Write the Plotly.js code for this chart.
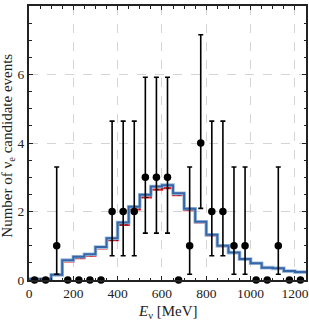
<!DOCTYPE html>
<html>
<head>
<meta charset="utf-8">
<script src="https://cdn.plot.ly/plotly-3.0.1.min.js"></script>
<style>html,body{margin:0;padding:0;background:#fff;}#chart{width:309px;height:320px;}</style>
</head>
<body>
<div id="chart"></div>
<script>
// Bin edges and centres (MeV)
var binEdges = [0,50,100,150,200,250,300,350,400,450,500,550,600,650,700,750,800,850,900,950,1000,1050,1100,1150,1200,1250];
var binCenters = [25,75,125,175,225,275,325,375,425,475,525,575,625,675,725,775,825,875,925,975,1025,1075,1125,1175,1225];
// Observed candidate events
var observed = [0,0,1,0,0,0,0,2,2,2,3,3,3,0,1,4,2,2,1,1,0,0,1,0,0];
var errUp   = [0,0,2.30,0,0,0,0,2.64,2.64,2.64,2.92,2.92,2.92,0,2.30,3.16,2.64,2.64,2.30,2.30,0,0,2.30,0,0];
var errDown = [0,0,0.83,0,0,0,0,1.29,1.29,1.29,1.63,1.63,1.63,0,0.83,1.91,1.29,1.29,0.83,0.83,0,0,0.83,0,0];
// Predictions
var predBlue = [0.03,0.03,0.15,0.58,0.68,0.75,0.96,1.22,1.68,2.14,2.49,2.73,2.77,2.53,2.08,1.70,1.32,1.00,0.80,0.61,0.49,0.36,0.34,0.26,0.23];
var predRed  = [0.03,0.03,0.15,0.54,0.64,0.71,0.92,1.16,1.61,2.06,2.41,2.64,2.68,2.48,2.04,1.68,1.30,0.99,0.79,0.60,0.48,0.35,0.33,0.25,0.22];
// Axis titles
var xTitle = '<i>E</i><sub>ν</sub> [MeV]';
var yTitle = 'Number of ν<sub>e</sub> candidate events';

function stepY(v){ return v.concat([v[v.length-1]]); }

var traces = [
  {x: binEdges, y: stepY(predRed), mode:'lines', line:{shape:'hv', color:'#e8202a', width:2.2}, hoverinfo:'skip'},
  {x: binEdges, y: stepY(predRed), mode:'lines', line:{shape:'hv', color:'#111', width:1, dash:'dot'}, hoverinfo:'skip'},
  {x: binEdges, y: stepY(predBlue), mode:'lines', line:{shape:'hv', color:'#9fbddc', width:3.6}, hoverinfo:'skip'},
  {x: binEdges, y: stepY(predBlue), mode:'lines', line:{shape:'hv', color:'#3566a8', width:2}, hoverinfo:'skip'},
  {x: binCenters, y: observed, mode:'markers', marker:{color:'#000', size:7.5},
   error_y:{type:'data', symmetric:false, array:errUp, arrayminus:errDown, color:'#000', thickness:1.6, width:2.5},
   cliponaxis:false, hoverinfo:'skip'}
];

var serif = 'Liberation Serif, Times New Roman, serif';
var layout = {
  width:309, height:320,
  margin:{l:29, r:3, t:6, b:40},
  showlegend:false,
  paper_bgcolor:'#fff', plot_bgcolor:'#fff',
  font:{family:serif, size:13, color:'#222'},
  xaxis:{
    range:[0,1250], tickvals:[0,200,400,600,800,1000,1200], ticktext:['0','200','400','600','800','1000','1200'],
    ticks:'inside', ticklen:4, tickwidth:1, tickcolor:'#222',
    minor:{dtick:50, tick0:0, ticks:'inside', ticklen:2.5, tickcolor:'#222', showgrid:false},
    showline:true, linecolor:'#222', linewidth:2, mirror:'allticks',
    showgrid:true, gridcolor:'#d4d4d4', griddash:'dash', gridwidth:1,
    zeroline:false, tickfont:{family:serif, size:13.5, color:'#222'}
  },
  yaxis:{
    range:[0,8], tickvals:[0,2,4,6,8], ticktext:['0','2','4','6','8'],
    ticks:'inside', ticklen:4, tickwidth:1, tickcolor:'#222',
    minor:{dtick:0.5, tick0:0, ticks:'inside', ticklen:2.5, tickcolor:'#222', showgrid:false},
    showline:true, linecolor:'#222', linewidth:2, mirror:'allticks',
    showgrid:true, gridcolor:'#d4d4d4', griddash:'dash', gridwidth:1,
    zeroline:false, tickfont:{family:serif, size:13.5, color:'#222'}
  },
  annotations:[
    {text:xTitle, xref:'paper', yref:'paper', x:0.5, y:-0.078, xanchor:'center', yanchor:'top',
     showarrow:false, font:{family:serif, size:15, color:'#222'}},
    {text:yTitle, xref:'paper', yref:'paper', x:-0.076, y:0.49, xanchor:'center', yanchor:'middle',
     textangle:-90, showarrow:false, font:{family:serif, size:15, color:'#222'}}
  ]
};
Plotly.newPlot('chart', traces, layout, {displayModeBar:false, staticPlot:true});
</script>
</body>
</html>
